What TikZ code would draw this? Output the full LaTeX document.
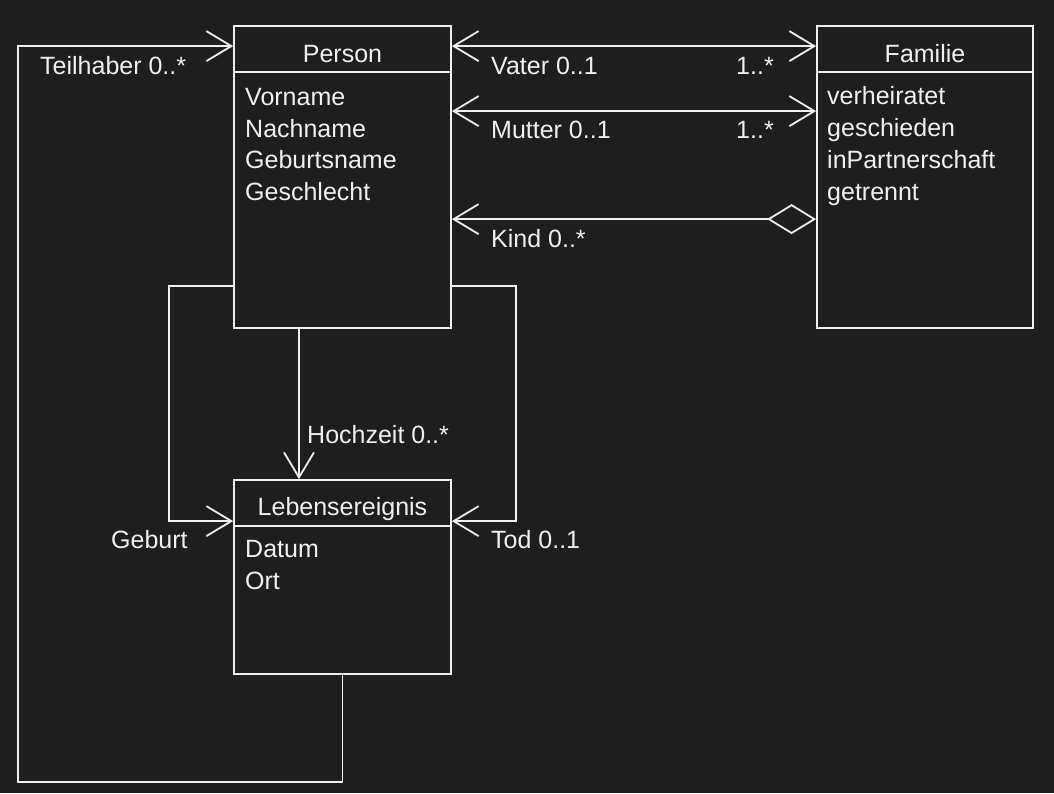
\documentclass[tikz,border=0pt]{standalone}
\usepackage{fontspec}
\setmainfont{Liberation Sans}
\usetikzlibrary{arrows.meta}
\definecolor{bg}{HTML}{1E1E1E}
\definecolor{fg}{HTML}{F0F0F0}
\begin{document}
\begin{tikzpicture}[x=1pt,y=-1pt,
  every node/.style={text=fg,font=\fontsize{25}{32}\selectfont},
  umlbox/.style={draw=fg,line width=1.8pt,rectangle,inner sep=0pt,fill=bg},
  lbl/.style={anchor=base west,inner sep=0pt},
  ttl/.style={anchor=base,inner sep=0pt},
  conn/.style={draw=fg,line width=1.8pt},
  openhead/.style={-{Straight Barb[length=25pt,width=30pt,line width=1.8pt]}},
  bothhead/.style={{Straight Barb[length=25pt,width=30pt,line width=1.8pt]}-{Straight Barb[length=25pt,width=30pt,line width=1.8pt]}},
  aggr/.style={{Diamond[length=49pt,width=30pt,fill=bg,line width=1.8pt]}-{Straight Barb[length=25pt,width=30pt,line width=1.8pt]}}
]
\fill[bg] (0,0) rectangle (1054,793);
\useasboundingbox (0,0) rectangle (1054,793);

% boxes
\node[umlbox,minimum width=217pt,minimum height=302pt] (person) at (342.5,177) {};
\node[umlbox,minimum width=216pt,minimum height=302pt] (fam) at (925,177) {};
\node[umlbox,minimum width=217pt,minimum height=194pt] (leb) at (342.5,577) {};

\draw[conn] ([yshift=-47pt]person.north west) -- ([yshift=-47pt]person.north east);
\draw[conn] ([yshift=-47pt]fam.north west) -- ([yshift=-47pt]fam.north east);
\draw[conn] ([yshift=-47pt]leb.north west) -- ([yshift=-47pt]leb.north east);

% titles and attributes
\node[ttl] (tperson) at (342.5,62) {Person};
\node[lbl] (p1) at (245,105) {Vorname};
\node[lbl] (p2) at (245,137) {Nachname};
\node[lbl] (p3) at (245,168) {Geburtsname};
\node[lbl] (p4) at (245,200) {Geschlecht};

\node[ttl] (tfam) at (925,62) {Familie};
\node[lbl] (f1) at (827,104) {verheiratet};
\node[lbl] (f2) at (827,136) {geschieden};
\node[lbl] (f3) at (827,168) {inPartnerschaft};
\node[lbl] (f4) at (827,200) {getrennt};

\node[ttl] (tleb) at (342.5,515) {Lebensereignis};
\node[lbl] (l1) at (245,557) {Datum};
\node[lbl] (l2) at (245,589) {Ort};

% connectors
\coordinate (tcorner) at (18,782);
\draw[conn,openhead] (leb.south) |- (tcorner) |- ([yshift=-21pt]person.north west);
\draw[conn,bothhead] ([yshift=-21pt]person.north east) -- ([yshift=-21pt]fam.north west);
\draw[conn,bothhead] ([yshift=-86pt]person.north east) -- ([yshift=-86pt]fam.north west);
\draw[conn,aggr] ([yshift=-194pt]fam.north west) -- ([yshift=-194pt]person.north east);
\draw[conn,openhead] ([yshift=43pt]person.south west) -- ++(-64,0) |- ([yshift=-42pt]leb.north west);
\draw[conn,openhead] ([yshift=43pt]person.south east) -- ++(64,0) |- ([yshift=-42pt]leb.north east);
\draw[conn,openhead] ([xshift=-43.5pt]person.south) -- ([xshift=-43.5pt]leb.north);

% labels
\node[lbl] (lteil) at (40,74) {Teilhaber 0..*};
\node[lbl] (lvater) at (491,74) {Vater 0..1};
\node[lbl] (lv2) at (736,74) {1..*};
\node[lbl] (lmutter) at (491,138) {Mutter 0..1};
\node[lbl] (lm2) at (736,138) {1..*};
\node[lbl] (lkind) at (491,247) {Kind 0..*};
\node[lbl] (lhoch) at (307,443) {Hochzeit 0..*};
\node[lbl] (lgeb) at (111,548) {Geburt};
\node[lbl] (ltod) at (491,548) {Tod 0..1};
\end{tikzpicture}
\end{document}
